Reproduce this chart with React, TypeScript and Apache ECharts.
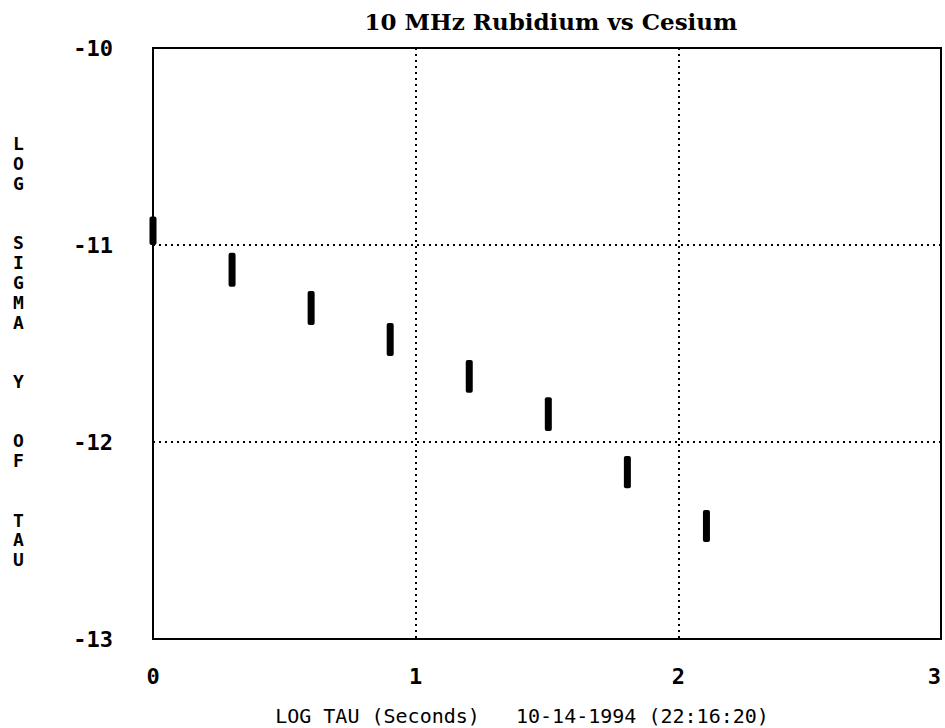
import React, { useEffect, useRef } from "react";
import * as echarts from "echarts";

// log10(tau) for tau = 1, 2, 4, ... 128 s
const LOG_TAU = [0, 0.301, 0.602, 0.903, 1.204, 1.505, 1.806, 2.107];
// log10(sigma_y(tau)) lower / upper ends of each bar
const SIGMA_LOW = [-11.0, -11.212, -11.406, -11.563, -11.75, -11.944, -12.235, -12.508];
const SIGMA_HIGH = [-10.855, -11.039, -11.234, -11.396, -11.584, -11.773, -12.071, -12.345];

const X_MIN = 0;
const X_MAX = 3;
const Y_MIN = -13;
const Y_MAX = -10;

const TITLE = "10 MHz Rubidium vs Cesium";
const X_NAME = "LOG TAU (Seconds)   10-14-1994 (22:16:20)";
const Y_NAME_LINES = ["L", "O", "G", "", "", "S", "I", "G", "M", "A", "", "", "Y", "", "", "O", "F", "", "", "T", "A", "U"];

export default function App() {
  const ref = useRef<HTMLDivElement>(null);

  useEffect(() => {
    if (!ref.current) return;
    const chart = echarts.init(ref.current, null, { renderer: "svg" });
    const data = LOG_TAU.map((x, i) => [x, SIGMA_LOW[i], SIGMA_HIGH[i]]);
    const mono = "'DejaVu Sans Mono', monospace";

    chart.setOption({
      animation: false,
      backgroundColor: "#ffffff",
      title: {
        text: TITLE,
        left: 546,
        top: 5,
        textAlign: "center",
        textStyle: {
          fontFamily: "'DejaVu Serif', serif",
          fontWeight: "bold",
          fontSize: 23,
          color: "#000",
        },
      },
      grid: {
        left: 153,
        right: 4,
        top: 48,
        bottom: 89,
        outerBoundsMode: "none",
        containLabel: false,
        show: true,
        borderColor: "#000",
        borderWidth: 2,
        backgroundColor: "transparent",
      },
      xAxis: {
        type: "value",
        min: X_MIN,
        max: X_MAX,
        interval: 1,
        axisLine: { show: true, lineStyle: { color: "#000", width: 2 } },
        axisTick: { show: false },
        axisLabel: {
          margin: 26,
          fontFamily: mono,
          fontWeight: "bold",
          fontSize: 22,
          color: "#000",
          alignMaxLabel: "right",
        },
        splitLine: {
          show: true,
          lineStyle: { color: "#000", width: 2, type: [2, 4] },
        },
      },
      yAxis: {
        type: "value",
        min: Y_MIN,
        max: Y_MAX,
        interval: 1,
        axisLine: { show: true, lineStyle: { color: "#000", width: 2 } },
        axisTick: { show: false },
        axisLabel: {
          margin: 40,
          fontFamily: mono,
          fontWeight: "bold",
          fontSize: 22,
          color: "#000",
        },
        splitLine: {
          show: true,
          lineStyle: { color: "#000", width: 2, type: [2, 4] },
        },
      },
      series: [
        {
          type: "custom",
          data,
          encode: { x: 0, y: [1, 2] },
          renderItem: (params: any, api: any) => {
            const x = api.value(0);
            const lo = api.coord([x, api.value(1)]);
            const hi = api.coord([x, api.value(2)]);
            const w = 7;
            return {
              type: "rect",
              shape: { x: lo[0] - w / 2, y: hi[1], width: w, height: lo[1] - hi[1], r: 2 },
              style: { fill: "#000" },
            };
          },
          clip: false,
          z: 10,
        },
      ],
      graphic: [
        {
          type: "text",
          left: 13,
          top: 134,
          style: {
            text: Y_NAME_LINES.join("\n"),
            font: `bold 18px ${mono}`,
            lineHeight: 19.8,
            fill: "#000",
            textAlign: "center",
          },
        },
        {
          type: "text",
          x: 522,
          y: 716,
          style: {
            text: X_NAME,
            font: `20px ${mono}`,
            fill: "#000",
            textAlign: "center",
            textVerticalAlign: "middle",
          },
        },
      ],
    });

    return () => chart.dispose();
  }, []);

  return (
    <div
      ref={ref}
      style={{ position: "fixed", left: 0, top: 0, width: 945, height: 728 }}
    />
  );
}
